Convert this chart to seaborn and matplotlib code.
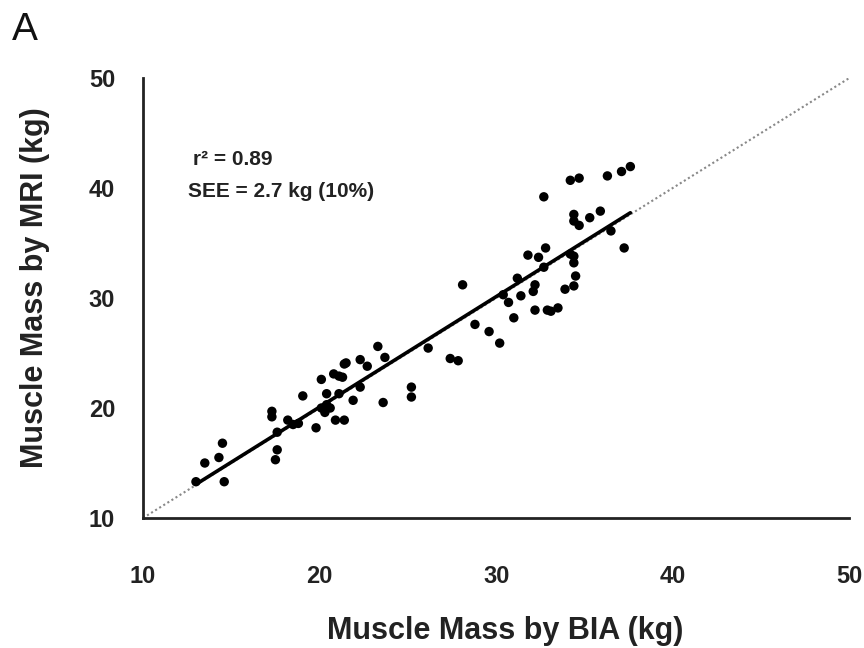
import matplotlib
matplotlib.use("Agg")
import matplotlib.pyplot as plt
import seaborn as sns
import numpy as np
import pandas as pd

# Data: muscle mass by BIA (x) vs by MRI (y), kg
bia = [13.0, 13.5, 14.3, 14.5, 14.6, 17.3, 17.3, 17.6, 17.6, 17.5,
       18.2, 18.5, 18.8, 19.05, 19.8, 20.1, 20.1, 20.3, 20.4, 20.4,
       20.9, 21.4, 21.1, 20.8, 21.1, 21.3, 21.4, 21.5, 21.9, 22.3,
       22.3, 22.7, 23.3, 23.7, 23.6, 25.2, 25.2, 26.15, 27.4, 27.85,
       28.1, 28.8, 29.6, 30.2, 30.4, 30.7, 31.0, 31.4, 31.2, 31.8,
       32.4, 32.8, 32.7, 32.2, 32.1, 32.2, 32.9, 33.1, 33.5, 33.9,
       34.4, 34.5, 34.4, 34.4, 34.2, 37.25, 32.7, 34.2, 34.7, 36.3,
       37.1, 37.6, 34.4, 34.4, 34.7, 35.3, 35.9, 36.5, 20.6]
mri = [13.3, 15.0, 15.5, 16.8, 13.3, 19.7, 19.2, 17.8, 16.2, 15.3,
       18.9, 18.5, 18.6, 21.1, 18.2, 22.6, 20.0, 19.6, 20.3, 21.3,
       18.9, 18.9, 21.3, 23.1, 22.9, 22.8, 24.0, 24.1, 20.7, 21.9,
       24.4, 23.8, 25.6, 24.6, 20.5, 21.9, 21.0, 25.45, 24.5, 24.3,
       31.2, 27.6, 26.95, 25.9, 30.3, 29.6, 28.2, 30.2, 31.8, 33.9,
       33.7, 34.55, 32.8, 31.2, 30.6, 28.9, 28.9, 28.8, 29.1, 30.8,
       31.1, 32.0, 33.2, 33.8, 34.0, 34.55, 39.2, 40.7, 40.9, 41.1,
       41.5, 41.95, 37.6, 37.0, 36.6, 37.3, 37.9, 36.1, 20.0]
axis_range = [10, 50]
major_ticks = [10, 20, 30, 40, 50]
minor_ticks = [15, 25, 35, 45]
stats_text = ["r\u00b2 = 0.89", "SEE = 2.7 kg (10%)"]

df = pd.DataFrame({"BIA": bia, "MRI": mri})

sns.set_style("white")
plt.rcParams["font.family"] = ["Liberation Sans", "DejaVu Sans"]

fig = plt.figure(figsize=(8.64, 6.48), dpi=100)
ax = fig.add_axes([0.1655, 0.2006, 0.8175, 0.679])

# identity line (dotted)
ax.plot(axis_range, axis_range, linestyle=(0, (1, 1.3)), color="#888888",
        linewidth=1.5, zorder=1)

sns.regplot(data=df, x="BIA", y="MRI", ax=ax, ci=None, truncate=True,
            scatter_kws=dict(s=46, color="black", alpha=1, edgecolors="none",
                             zorder=3),
            line_kws=dict(color="black", linewidth=2.6, zorder=2))

ax.set_xlim(axis_range)
ax.set_ylim(axis_range)
ax.set_xticks(major_ticks)
ax.set_yticks(major_ticks)
ax.set_xticks(minor_ticks, minor=True)
ax.set_yticks(minor_ticks, minor=True)

for s in ["top", "right"]:
    ax.spines[s].set_visible(False)
for s in ["left", "bottom"]:
    ax.spines[s].set_color("#222222")
    ax.spines[s].set_linewidth(2.0)

ax.tick_params(axis="both", which="both", direction="in", length=8, width=1.8,
               color="#222222")
ax.tick_params(axis="x", which="major", pad=34, labelsize=17)
ax.tick_params(axis="y", which="major", pad=20, labelsize=17)
for lab in ax.get_xticklabels() + ax.get_yticklabels():
    lab.set_fontweight("bold")
    lab.set_color("#222222")

ax.set_xlabel("Muscle Mass by BIA (kg)", fontsize=22, fontweight="bold",
              color="#222222", labelpad=20)
ax.set_ylabel("Muscle Mass by MRI (kg)", fontsize=22, fontweight="bold",
              color="#222222", labelpad=28)
ax.xaxis.label.set_x(0.513)
ax.yaxis.label.set_y(0.523)

ax.text(0.071, 0.814, stats_text[0], transform=ax.transAxes, fontsize=15,
        fontweight="bold", color="#222222", va="center", ha="left")
ax.text(0.064, 0.741, stats_text[1], transform=ax.transAxes, fontsize=15,
        fontweight="bold", color="#222222", va="center", ha="left")

fig.text(0.014, 0.953, "A", fontsize=28, color="#111111", va="center",
         ha="left")

fig.savefig("out.png", dpi=100)
